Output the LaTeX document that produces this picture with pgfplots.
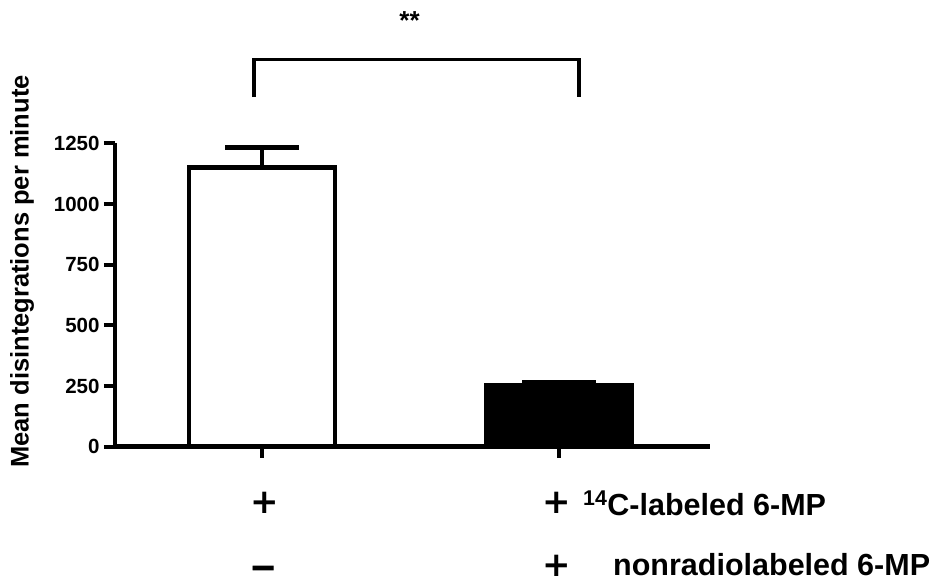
\documentclass[border=0pt]{standalone}
\usepackage{fontspec}
\setmainfont{Liberation Sans}
\newfontfamily\symfont{DejaVu Sans}
\newfontfamily\minusfont[BoldFeatures={FakeBold=3}]{DejaVu Sans}
\usepackage{pgfplots}
\pgfplotsset{compat=1.18}
\begin{document}
\begin{tikzpicture}[x=1pt,y=1pt]
\path[use as bounding box] (0,0) rectangle (931,-585);
\begin{axis}[
  at={(115pt,-446.7pt)}, anchor=south west,
  width=595pt, height=303.4pt, scale only axis,
  xmin=-0.495, xmax=1.508, ymin=0, ymax=1250,
  axis lines=left,
  axis line style={-, line width=4.5pt, black},
  tick style={line width=4pt, black},
  major tick length=11pt,
  tick align=outside,
  xtick={0,1}, xticklabels={},
  ytick={0,250,500,750,1000,1250},
  yticklabel style={font=\bfseries\fontsize{20.5}{20.5}\selectfont, xshift=-1pt},
  /pgf/number format/assume math mode=true,
  /pgf/number format/1000 sep={},
  clip=false,
]
\addplot[ybar, bar width=146pt, bar shift=0pt, fill=white, draw=black, line width=4.5pt,
  error bars/.cd, y dir=plus, y explicit, error mark=|,
  error bar style={line width=4.5pt, black},
  error mark options={mark size=37pt, line width=4.5pt, black}]
  coordinates {(0,1150) +- (0,83)};
\addplot[ybar, bar width=146pt, bar shift=0pt, fill=black, draw=black, line width=4.5pt,
  error bars/.cd, y dir=plus, y explicit, error mark=|,
  error bar style={line width=4.5pt, black},
  error mark options={mark size=37pt, line width=4.5pt, black}]
  coordinates {(1,253) +- (0,13)};
\draw[line width=3.5pt, black] (axis cs:-0.027,1440) |- (axis cs:1.067,1595) -- (axis cs:1.067,1440);
\end{axis}
\node[anchor=base, font=\bfseries\fontsize{26}{26}\selectfont, inner sep=0pt] at (409.5,-30) {**};
\node[rotate=90, font=\bfseries\fontsize{25.5}{25.5}\selectfont, inner sep=0pt] at (22,-271.5) {Mean disintegrations per minute};
\node[anchor=base, font=\symfont\bfseries\fontsize{34}{34}\selectfont, inner sep=0pt] at (265,-513) {+};
\node[anchor=base, font=\symfont\bfseries\fontsize{34}{34}\selectfont, inner sep=0pt] at (557,-513) {+};
\node[anchor=base, font=\minusfont\bfseries\fontsize{32}{32}\selectfont, inner sep=0pt] at (263,-578) {−};
\node[anchor=base, font=\symfont\bfseries\fontsize{34}{34}\selectfont, inner sep=0pt] at (557,-576) {+};
\node[anchor=base west, font=\bfseries\fontsize{30.5}{30.5}\selectfont, inner sep=0pt] at (583,-515) {\textsuperscript{14}C-labeled 6-MP};
\node[anchor=base west, font=\bfseries\fontsize{30.5}{30.5}\selectfont, inner sep=0pt] at (613,-575) {nonradiolabeled 6-MP};
\end{tikzpicture}
\end{document}
